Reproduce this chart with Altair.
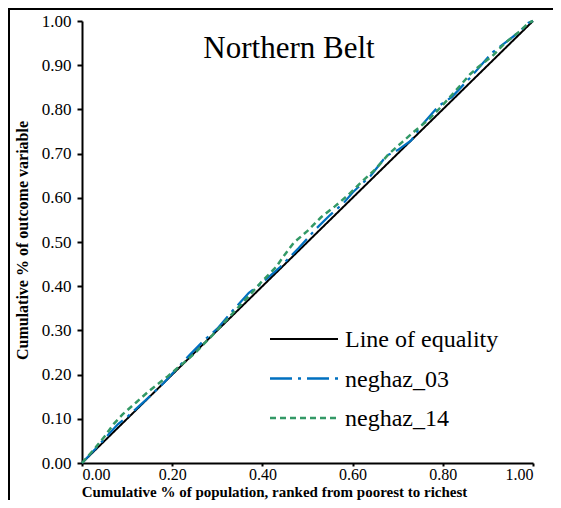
import altair as alt
import pandas as pd

# ---- data ----
eq_x = [0.0, 1.0]
eq_y = [0.0, 1.0]

n03_x = [0, 0.03, 0.06, 0.08, 0.10, 0.14, 0.18, 0.21, 0.24, 0.27, 0.30, 0.33, 0.37, 0.40,
         0.44, 0.48, 0.52, 0.55, 0.58, 0.60, 0.64, 0.675, 0.70, 0.73, 0.75, 0.79, 0.82,
         0.86, 0.88, 0.91, 0.94, 0.97, 0.99, 1.0]
n03_y = [0, 0.032, 0.066, 0.088, 0.104, 0.141, 0.18, 0.213, 0.246, 0.277, 0.304, 0.34,
         0.385, 0.408, 0.444, 0.486, 0.531, 0.561, 0.588, 0.612, 0.65, 0.695, 0.708, 0.73,
         0.76, 0.807, 0.828, 0.871, 0.894, 0.929, 0.952, 0.976, 0.996, 1.0]

n14_x = [0, 0.03, 0.05, 0.07, 0.09, 0.12, 0.15, 0.19, 0.22, 0.25, 0.29, 0.33, 0.37, 0.40,
         0.43, 0.45, 0.47, 0.50, 0.53, 0.56, 0.59, 0.62, 0.65, 0.68, 0.71, 0.74, 0.77,
         0.80, 0.83, 0.86, 0.88, 0.91, 0.94, 0.97, 0.99, 1.0]
n14_y = [0, 0.035, 0.06, 0.088, 0.11, 0.137, 0.164, 0.196, 0.222, 0.248, 0.29, 0.334,
         0.378, 0.412, 0.443, 0.472, 0.499, 0.525, 0.556, 0.58, 0.606, 0.636, 0.664, 0.699,
         0.726, 0.753, 0.778, 0.81, 0.844, 0.879, 0.897, 0.921, 0.952, 0.976, 0.996, 1.0]

series_names = ["Line of equality", "neghaz_03", "neghaz_14"]
series_colors = ["#000000", "#0070C0", "#339966"]
series_dash = [[1, 0], [22, 6, 3, 6], [6, 4]]
series_width = [2.0, 2.5, 2.5]
title_text = ["Northern Belt"]
y_ticks = [0.0, 0.1, 0.2, 0.3, 0.4, 0.5, 0.6, 0.7, 0.8, 0.9, 1.0]
x_ticks = [0.0, 0.2, 0.4, 0.6, 0.8, 1.0]

rows = []
for name, xs, ys in zip(series_names, [eq_x, n03_x, n14_x], [eq_y, n03_y, n14_y]):
    for i, (a, b) in enumerate(zip(xs, ys)):
        rows.append({"series": name, "x": a, "y": b, "i": i})
df = pd.DataFrame(rows)

FONT = "Liberation Serif"

lines = alt.Chart(df).mark_line(clip=False).encode(
    x=alt.X("x:Q", scale=alt.Scale(domain=[0, 1], nice=False),
            axis=alt.Axis(values=x_ticks, format=".2f", grid=False, labelPadding=0,
                          tickSize=3, labelFont=FONT, titleFont=FONT, labelFontSize=16,
                          title="Cumulative % of population, ranked from poorest to richest",
                          titleFontSize=15,
                          titleX=192, titleY=33, titleAlign="center",
                          titleBaseline="alphabetic")),
    y=alt.Y("y:Q", scale=alt.Scale(domain=[0, 1], nice=False),
            axis=alt.Axis(values=y_ticks, format=".2f", grid=False, labelPadding=6,
                          tickSize=5, labelFont=FONT, titleFont=FONT, labelFontSize=17,
                          title="Cumulative % of outcome variable",
                          titleFontSize=16,
                          titleX=-55, titleY=219, titleAlign="center",
                          titleAngle=270, titleBaseline="alphabetic")),
    color=alt.Color("series:N", scale=alt.Scale(domain=series_names, range=series_colors),
                    legend=None),
    strokeDash=alt.StrokeDash("series:N",
                              scale=alt.Scale(domain=series_names, range=series_dash),
                              legend=None),
    strokeWidth=alt.StrokeWidth("series:N",
                                scale=alt.Scale(domain=series_names, range=series_width),
                                legend=None),
    order="i:Q",
)

# ---- legend drawn inside the plot, one row per series ----
legend_layers = []
for k, (name, col, dash, w) in enumerate(zip(series_names, series_colors, series_dash, series_width)):
    row_y = 318 + 39.5 * k
    one = pd.DataFrame({"label": [name]})
    legend_layers.append(
        alt.Chart(one).mark_rule(color=col, strokeDash=dash, strokeWidth=w, clip=False).encode(
            x=alt.value(188), x2=alt.value(256), y=alt.value(row_y)))
    legend_layers.append(
        alt.Chart(one).mark_text(font=FONT, fontSize=24, color="black", align="left",
                                 baseline="alphabetic").encode(
            x=alt.value(263), y=alt.value(row_y + 8), text="label:N"))

title_df = pd.DataFrame({"t": title_text})
title_mark = alt.Chart(title_df).mark_text(
    font=FONT, fontSize=31, color="black", align="center", baseline="alphabetic"
).encode(x=alt.value(207), y=alt.value(37), text="t:N")

border_top = alt.Chart(title_df).mark_rule(color="black", strokeWidth=2, clip=False).encode(
    x=alt.value(-74), x2=alt.value(471), y=alt.value(-12))
border_left = alt.Chart(title_df).mark_rule(color="black", strokeWidth=2, clip=False).encode(
    x=alt.value(-73), y=alt.value(-13), y2=alt.value(479))

chart = alt.layer(border_top, border_left, lines, title_mark, *legend_layers).properties(
    width=451, height=442,
    padding={"left": 74, "top": 13, "right": 20, "bottom": 37},
    autosize=alt.AutoSizeParams(type="none"),
).configure(font=FONT).configure_view(stroke=None).configure_axis(
    domainColor="black", domainWidth=2, tickColor="black", tickWidth=2,
    labelFont=FONT, labelColor="black",
    titleFont=FONT, titleFontWeight="bold", titleColor="black",
)

chart.save("out.html", embed_options={"renderer": "svg", "actions": False})
